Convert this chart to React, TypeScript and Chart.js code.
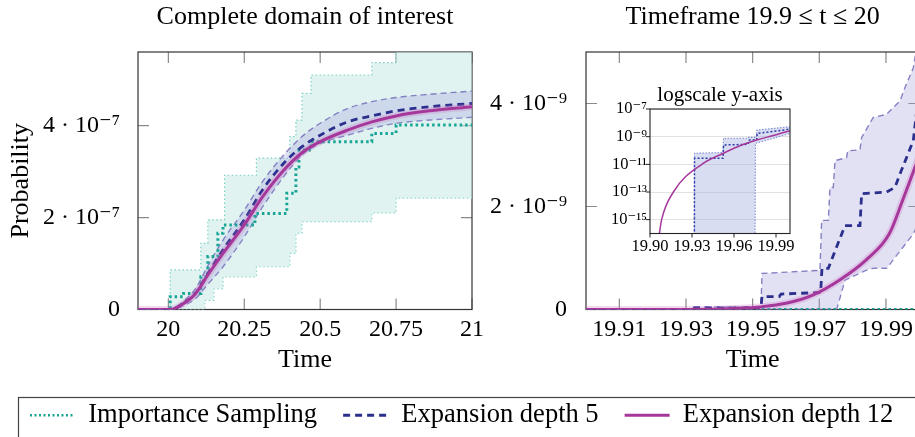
import React, { useEffect, useRef } from "react";
import { Chart, registerables } from "chart.js";

Chart.register(...registerables);

const FONT = "'Liberation Serif', 'DejaVu Serif', 'Times New Roman', serif";

// ================= Left panel: "Complete domain of interest" (values in units of 1e-7)
const E7 = 1e-7;
const LEFT_X_TICKS = [20, 20.25, 20.5, 20.75, 21];
const LEFT_X_LABELS = ["20", "20.25", "20.5", "20.75", "21"];
const LEFT_Y_TICKS = [0, 2e-7, 4e-7];
const LEFT_Y_LABELS = ["0", "2 · 10⁻⁷", "4 · 10⁻⁷"];

const D12_LEFT_T = [19.9, 20.0, 20.02, 20.05, 20.09, 20.13, 20.18, 20.25, 20.31, 20.38, 20.44, 20.5, 20.59, 20.67, 20.75, 20.86, 21.0];
const D12_LEFT_V = [0, 0, 0.02, 0.13, 0.35, 0.75, 1.22, 1.84, 2.45, 3.03, 3.41, 3.65, 3.9, 4.08, 4.21, 4.32, 4.41];

const D5_LEFT_T = [19.9, 20.0, 20.02, 20.05, 20.09, 20.13, 20.18, 20.25, 20.31, 20.38, 20.44, 20.5, 20.59, 20.67, 20.75, 20.86, 21.0];
const D5_LEFT_V = [0, 0, 0.02, 0.14, 0.36, 0.78, 1.3, 1.95, 2.6, 3.18, 3.54, 3.79, 4.08, 4.21, 4.32, 4.41, 4.48];
const D5_UP_LEFT_V = [0, 0, 0.03, 0.18, 0.46, 0.95, 1.51, 2.16, 2.78, 3.36, 3.76, 4.05, 4.37, 4.52, 4.61, 4.68, 4.75];
const D5_LO_LEFT_V = [0, 0, 0.01, 0.09, 0.24, 0.55, 0.93, 1.58, 2.23, 2.89, 3.36, 3.61, 3.79, 3.94, 4.05, 4.12, 4.18];

const IS_LEFT_T = [19.9, 20.006, 20.05, 20.107, 20.13, 20.163, 20.18, 20.285, 20.39, 20.42, 20.43, 20.47, 20.67, 20.75, 21.0];
const IS_LEFT_V = [0, 0.28, 0.35, 0.71, 1.15, 1.66, 1.84, 2.09, 2.53, 3.1, 3.47, 3.65, 3.83, 4.01, 4.01];
const IS_UP_LEFT_T = [19.9, 20.006, 20.107, 20.13, 20.185, 20.29, 20.4, 20.42, 20.44, 20.47, 20.67, 20.748, 21.0];
const IS_UP_LEFT_V = [0, 0.86, 1.44, 1.95, 2.92, 3.29, 3.76, 4.12, 4.7, 5.1, 5.37, 5.8, 5.8];
const IS_LO_LEFT_T = [19.9, 20.12, 20.15, 20.18, 20.29, 20.4, 20.42, 20.44, 20.67, 20.75, 21.0];
const IS_LO_LEFT_V = [0, 0.2, 0.45, 0.71, 0.93, 1.22, 1.66, 1.91, 2.1, 2.42, 2.42];

// ================= Right panel: "Timeframe 19.9 ≤ t ≤ 20" (values in units of 1e-9)
const E9 = 1e-9;
const RIGHT_X_TICKS = [19.91, 19.93, 19.95, 19.97, 19.99];
const RIGHT_X_LABELS = ["19.91", "19.93", "19.95", "19.97", "19.99"];
const RIGHT_Y_TICKS = [0, 2e-9, 4e-9];
const RIGHT_Y_LABELS = ["0", "2 · 10⁻⁹", "4 · 10⁻⁹"];

const D12_RIGHT_T = [19.9, 19.93, 19.94, 19.945, 19.952, 19.96, 19.968, 19.976, 19.984, 19.991, 19.995, 19.9987, 20.0];
const D12_RIGHT_V = [0, 0, 0.005, 0.02, 0.05, 0.12, 0.28, 0.57, 0.96, 1.47, 2.12, 2.76, 3.0];

const D5_RIGHT_T = [19.9, 19.9316, 19.9318, 19.9525, 19.9528, 19.958, 19.9585, 19.9704, 19.9708, 19.9727, 19.9777, 19.9822, 19.9827, 19.9902, 19.9927, 19.9942, 19.9982, 20.0];
const D5_RIGHT_V = [0, 0, 0.03, 0.03, 0.25, 0.25, 0.3, 0.33, 0.8, 0.8, 1.63, 1.63, 2.25, 2.28, 2.37, 2.63, 3.28, 4.3];
const D5_UP_RIGHT_T = [19.9, 19.9316, 19.9318, 19.9525, 19.9528, 19.9702, 19.9707, 19.9727, 19.9732, 19.9742, 19.9747, 19.9782, 19.9785, 19.9822, 19.9827, 19.9862, 19.9902, 19.9942, 19.9957, 19.9982, 20.0];
const D5_UP_RIGHT_V = [0, 0, 0.05, 0.05, 0.7, 0.76, 1.73, 1.73, 2.37, 2.37, 2.89, 2.95, 3.08, 3.1, 3.34, 3.73, 3.79, 4.05, 4.31, 4.69, 5.4];
const D5_LO_RIGHT_T = [19.9, 19.9752, 19.9777, 19.984, 19.9862, 19.9902, 19.9982, 20.0];
const D5_LO_RIGHT_V = [0, 0, 0.57, 0.76, 0.8, 0.8, 1.47, 1.7];

const IS_RIGHT_T = [19.9, 20.0];
const IS_RIGHT_V = [0, 0];

// ================= Inset: "logscale y-axis" (actual probabilities)
const LOG_FLOOR = 1e-17; // zero probability, below the visible log range
const INSET_X_TICKS = [19.9, 19.93, 19.96, 19.99];
const INSET_X_LABELS = ["19.90", "19.93", "19.96", "19.99"];
const INSET_Y_TICKS = [1e-15, 1e-13, 1e-11, 1e-9, 1e-7];
const INSET_Y_LABELS = ["10⁻¹⁵", "10⁻¹³", "10⁻¹¹", "10⁻⁹", "10⁻⁷"];

const INSET_D12_T = [19.9067, 19.9083, 19.9167, 19.937, 19.9524, 19.9655, 19.9762, 19.988, 20.0];
const INSET_D12_V = [1e-16, 1e-15, 1e-13, 1e-11, 6.3e-11, 2.5e-10, 5.8e-10, 1.2e-9, 2.7e-9];
const INSET_D5_T = [19.9317, 19.9318, 19.9522, 19.9525, 19.9702, 19.9705, 19.9762, 19.9765, 20.0];
const INSET_D5_V = [LOG_FLOOR, 2.7e-11, 2.7e-11, 2.5e-10, 2.8e-10, 5.7e-10, 5.7e-10, 1.7e-9, 3.5e-9];
const INSET_UP_T = [19.9317, 19.9318, 19.95, 19.9522, 19.9525, 19.97, 19.9703, 19.976, 19.9763, 20.0];
const INSET_UP_V = [LOG_FLOOR, 6.3e-11, 7e-11, 7e-11, 7.6e-10, 7.6e-10, 8.9e-10, 8.9e-10, 3e-9, 5.2e-9];
const INSET_LO_T = [19.9317, 19.975, 19.9753, 20.0];
const INSET_LO_V = [LOG_FLOOR, LOG_FLOOR, 3.3e-10, 1.7e-9];

const LEGEND_LABELS = ["Importance Sampling", "Expansion depth 5", "Expansion depth 12"];

// ================= Styles
const TEAL = "#18a596";
const TEAL_LIGHT = "#79cfc5";
const TEAL_FILL = "rgba(198,234,229,0.55)";
const NAVY = "#2b2f8d";
const BAND_BORDER = "#8580c4";
const BAND_FILL = "rgba(160,155,215,0.3)";
const MAGENTA = "#a6389b";
const MAGENTA_HALO = "rgba(205,105,190,0.25)";
const INSET_BAND_FILL = "rgba(160,170,220,0.4)";
const INSET_BAND_BORDER = "#7d8bd0";
const INSET_NAVY = "#2b3aa8";

function pts(ts: number[], vs: number[], k = 1) {
  return ts.map((t, i) => ({ x: t, y: vs[i] * k }));
}

function line(label: string, data: any[], color: string, width: number, dash: number[], extra: any = {}) {
  return {
    label,
    data,
    borderColor: color,
    backgroundColor: color,
    borderWidth: width,
    borderDash: dash,
    borderCapStyle: "butt",
    pointRadius: 0,
    pointHoverRadius: 0,
    fill: false,
    tension: 0,
    ...extra,
  };
}

function drawFrame(chart: any, o: any) {
  const { ctx, chartArea: a, scales } = chart;
  const xs = scales.x;
  const ys = scales.y;
  ctx.save();
  ctx.setLineDash([]);
  ctx.lineWidth = o.tickWidth;
  ctx.strokeStyle = o.tickColor;
  ctx.beginPath();
  const L = o.tickLen;
  for (const t of xs.ticks) {
    const p = xs.getPixelForValue(t.value);
    if (o.inward) {
      ctx.moveTo(p, a.bottom);
      ctx.lineTo(p, a.bottom - L);
      ctx.moveTo(p, a.top);
      ctx.lineTo(p, a.top + L);
    } else {
      ctx.moveTo(p, a.bottom);
      ctx.lineTo(p, a.bottom + L);
    }
  }
  for (const t of ys.ticks) {
    const p = ys.getPixelForValue(t.value);
    if (o.inward) {
      ctx.moveTo(a.left, p);
      ctx.lineTo(a.left + L, p);
      ctx.moveTo(a.right, p);
      ctx.lineTo(a.right - L, p);
    } else {
      ctx.moveTo(a.left, p);
      ctx.lineTo(a.left - L, p);
    }
  }
  ctx.stroke();
  ctx.lineWidth = o.frameWidth;
  ctx.strokeStyle = o.frameColor;
  ctx.strokeRect(a.left, a.top, a.right - a.left, a.bottom - a.top);
  ctx.restore();
}

const framePlugin = {
  id: "frame",
  beforeDraw(chart: any, _a: any, o: any) {
    if (o && o.bg) {
      const a = chart.chartArea;
      chart.ctx.save();
      chart.ctx.fillStyle = o.bg;
      chart.ctx.fillRect(a.left, a.top, a.right - a.left, a.bottom - a.top);
      chart.ctx.restore();
    }
  },
  beforeDatasetsDraw(chart: any, _a: any, o: any) {
    if (o && !o.after) drawFrame(chart, o);
  },
  afterDatasetsDraw(chart: any, _a: any, o: any) {
    if (o && o.after) drawFrame(chart, o);
  },
};

const legendFramePlugin = {
  id: "legendFrame",
  afterDraw(chart: any, _a: any, o: any) {
    const ctx = chart.ctx;
    ctx.save();
    ctx.setLineDash([]);
    ctx.lineWidth = 1.2;
    ctx.strokeStyle = "#444";
    ctx.strokeRect(o.x, o.y, 2000, 400);
    ctx.restore();
  },
};

function mainScales(opts: any) {
  return {
    x: {
      type: "linear",
      min: opts.xmin,
      max: opts.xmax,
      grid: { display: false },
      border: { display: false },
      ticks: {
        autoSkip: false,
        maxRotation: 0,
        minRotation: 0,
        padding: -2,
        color: "#000",
        font: { family: FONT, size: 24 },
        callback: (_v: any, i: number) => opts.xLabels[i],
      },
      afterBuildTicks: (s: any) => {
        s.ticks = opts.xTicks.map((v: number) => ({ value: v }));
      },
      afterFit: (s: any) => {
        s.height = opts.xHeight;
        s.paddingLeft = 0;
        s.paddingRight = 0;
      },
      title: {
        display: true,
        text: "Time",
        color: "#000",
        font: { family: FONT, size: 26 },
        padding: { top: 0, bottom: 16.4 },
      },
    },
    y: {
      type: "linear",
      min: 0,
      max: opts.ymax,
      grid: { display: false },
      border: { display: false },
      ticks: {
        padding: opts.yPad,
        color: "#000",
        font: { family: FONT, size: 24 },
        callback: (_v: any, i: number) => opts.yLabels[i],
      },
      afterBuildTicks: (s: any) => {
        s.ticks = opts.yTicks.map((v: number) => ({ value: v }));
      },
      afterFit: (s: any) => {
        s.width = opts.yWidth;
        s.paddingTop = 0;
        s.paddingBottom = 0;
      },
      title: {
        display: !!opts.yTitle,
        text: opts.yTitle || "",
        color: "#000",
        font: { family: FONT, size: 26 },
        padding: { top: 5.4, bottom: 0 },
      },
    },
  };
}

const mainFrame = { inward: true, tickLen: 11, tickWidth: 1.2, tickColor: "#8a8a8a", frameWidth: 1.2, frameColor: "#333" };

function titleOpts(text: string) {
  return {
    display: true,
    text,
    fullSize: false,
    color: "#000",
    font: { family: FONT, size: 26, weight: "normal" },
    padding: { top: 1.4, bottom: 19.4 },
  };
}

export default function App() {
  const leftRef = useRef<HTMLCanvasElement>(null);
  const rightRef = useRef<HTMLCanvasElement>(null);
  const insetRef = useRef<HTMLCanvasElement>(null);
  const legendRef = useRef<HTMLCanvasElement>(null);

  useEffect(() => {
    Chart.defaults.font.family = FONT;
    Chart.defaults.color = "#000";
    const mono = { cubicInterpolationMode: "monotone" };

    const d12Left = pts(D12_LEFT_T, D12_LEFT_V, E7);
    const left = new Chart(leftRef.current as any, {
      type: "line",
      data: {
        datasets: [
          line("Expansion depth 12", d12Left, MAGENTA, 3, [], mono),
          line("depth 12 band", d12Left, MAGENTA_HALO, 7, [], mono),
          line("Expansion depth 5", pts(D5_LEFT_T, D5_LEFT_V, E7), NAVY, 2.8, [7, 5], mono),
          line("Importance Sampling", pts(IS_LEFT_T, IS_LEFT_V, E7), TEAL, 3, [2.5, 3], { stepped: true }),
          line("depth 5 upper", pts(D5_LEFT_T, D5_UP_LEFT_V, E7), BAND_BORDER, 1.4, [6, 4], { ...mono, fill: "+1", backgroundColor: BAND_FILL }),
          line("depth 5 lower", pts(D5_LEFT_T, D5_LO_LEFT_V, E7), BAND_BORDER, 1.4, [6, 4], mono),
          line("IS upper", pts(IS_UP_LEFT_T, IS_UP_LEFT_V, E7), TEAL_LIGHT, 1.2, [1.5, 2.5], { stepped: true, fill: "+1", backgroundColor: TEAL_FILL }),
          line("IS lower", pts(IS_LO_LEFT_T, IS_LO_LEFT_V, E7), TEAL_LIGHT, 1.2, [1.5, 2.5], { stepped: true }),
        ],
      },
      options: {
        responsive: false,
        animation: false,
        events: [],
        layout: { padding: { left: 0, right: 28, top: 0, bottom: 0 } },
        scales: mainScales({
          xmin: 19.9, xmax: 21, xTicks: LEFT_X_TICKS, xLabels: LEFT_X_LABELS, xHeight: 82.5,
          ymax: 5.6e-7, yTicks: LEFT_Y_TICKS, yLabels: LEFT_Y_LABELS, yWidth: 138, yPad: 10, yTitle: "Probability",
        }),
        plugins: {
          legend: { display: false },
          tooltip: { enabled: false },
          title: titleOpts("Complete domain of interest"),
          frame: mainFrame,
        },
      } as any,
      plugins: [framePlugin],
    } as any);

    const d12Right = pts(D12_RIGHT_T, D12_RIGHT_V, E9);
    const right = new Chart(rightRef.current as any, {
      type: "line",
      data: {
        datasets: [
          line("Expansion depth 12", d12Right, MAGENTA, 3, [], mono),
          line("depth 12 band", d12Right, MAGENTA_HALO, 7, [], mono),
          line("Expansion depth 5", pts(D5_RIGHT_T, D5_RIGHT_V, E9), NAVY, 2.8, [7, 5]),
          line("Importance Sampling", pts(IS_RIGHT_T, IS_RIGHT_V, E9), TEAL, 3, [2.5, 3]),
          line("depth 5 upper", pts(D5_UP_RIGHT_T, D5_UP_RIGHT_V, E9), BAND_BORDER, 1.4, [6, 4], { fill: "+1", backgroundColor: BAND_FILL }),
          line("depth 5 lower", pts(D5_LO_RIGHT_T, D5_LO_RIGHT_V, E9), BAND_BORDER, 1.4, [6, 4]),
        ],
      },
      options: {
        responsive: false,
        animation: false,
        events: [],
        layout: { padding: { left: 0, right: 5.7, top: 0, bottom: 0 } },
        scales: mainScales({
          xmin: 19.9, xmax: 20.0, xTicks: RIGHT_X_TICKS, xLabels: RIGHT_X_LABELS, xHeight: 82.5,
          ymax: 5e-9, yTicks: RIGHT_Y_TICKS, yLabels: RIGHT_Y_LABELS, yWidth: 106, yPad: 11, yTitle: "",
        }),
        plugins: {
          legend: { display: false },
          tooltip: { enabled: false },
          title: titleOpts("Timeframe 19.9 ≤ t ≤ 20"),
          frame: mainFrame,
        },
      } as any,
      plugins: [framePlugin],
    } as any);

    const inset = new Chart(insetRef.current as any, {
      type: "line",
      data: {
        datasets: [
          line("Expansion depth 12", pts(INSET_D12_T, INSET_D12_V), MAGENTA, 1.5, [], mono),
          line("Expansion depth 5", pts(INSET_D5_T, INSET_D5_V), INSET_NAVY, 1.5, [2, 2]),
          line("depth 5 upper", pts(INSET_UP_T, INSET_UP_V), INSET_BAND_BORDER, 1.1, [1.5, 1.5], { fill: "+1", backgroundColor: INSET_BAND_FILL }),
          line("depth 5 lower", pts(INSET_LO_T, INSET_LO_V), INSET_BAND_BORDER, 1.1, [1.5, 1.5]),
        ],
      },
      options: {
        responsive: false,
        animation: false,
        events: [],
        layout: { padding: { left: 0, right: 10, top: 0, bottom: 0 } },
        scales: {
          x: {
            type: "linear",
            min: 19.9,
            max: 20.0,
            grid: { display: false },
            border: { display: false },
            ticks: {
              autoSkip: false,
              maxRotation: 0,
              padding: -5,
              color: "#000",
              font: { family: FONT, size: 16.5 },
              callback: (_v: any, i: number) => INSET_X_LABELS[i],
            },
            afterBuildTicks: (s: any) => {
              s.ticks = INSET_X_TICKS.map((v) => ({ value: v }));
            },
            afterFit: (s: any) => {
              s.height = 21.5;
              s.paddingLeft = 0;
              s.paddingRight = 0;
            },
          },
          y: {
            type: "logarithmic",
            min: 1e-16,
            max: 1e-7,
            grid: { display: true, drawOnChartArea: true, drawTicks: false, color: "#e2e2e2", lineWidth: 1 },
            border: { display: false },
            ticks: {
              padding: 3,
              color: "#000",
              font: { family: FONT, size: 16.5 },
              callback: (_v: any, i: number) => INSET_Y_LABELS[i],
            },
            afterBuildTicks: (s: any) => {
              s.ticks = INSET_Y_TICKS.map((v) => ({ value: v }));
            },
            afterFit: (s: any) => {
              s.width = 50;
              s.paddingTop = 0;
              s.paddingBottom = 0;
            },
          },
        },
        plugins: {
          legend: { display: false },
          tooltip: { enabled: false },
          title: {
            display: true,
            text: "logscale y-axis",
            fullSize: false,
            color: "#000",
            font: { family: FONT, size: 21, weight: "normal" },
            padding: { top: 8, bottom: 0.8 },
          },
          frame: { bg: "#fff", after: true, inward: false, tickLen: 4, tickWidth: 1, tickColor: "#222", frameWidth: 1.1, frameColor: "#222" },
        },
      } as any,
      plugins: [framePlugin],
    } as any);

    const legendStyles = [
      { color: TEAL, width: 2.6, dash: [2, 2.5] },
      { color: NAVY, width: 2.8, dash: [7, 5] },
      { color: MAGENTA, width: 3, dash: [] as number[] },
    ];
    const legend = new Chart(legendRef.current as any, {
      type: "line",
      data: {
        datasets: LEGEND_LABELS.map((lab, i) =>
          line(lab, [], legendStyles[i].color, legendStyles[i].width, legendStyles[i].dash)
        ),
      },
      options: {
        responsive: false,
        animation: false,
        events: [],
        layout: { padding: { left: 4, top: 0, right: 0, bottom: 0 } },
        scales: { x: { display: false }, y: { display: false } },
        plugins: {
          tooltip: { enabled: false },
          legend: {
            display: true,
            position: "top",
            align: "start",
            labels: {
              usePointStyle: true,
              pointStyleWidth: 45,
              boxHeight: 10,
              padding: 26,
              color: "#000",
              font: { family: FONT, size: 26.5 },
              generateLabels: (chart: any) =>
                chart.data.datasets.map((d: any, i: number) => ({
                  text: d.label,
                  strokeStyle: d.borderColor,
                  fillStyle: d.borderColor,
                  lineWidth: d.borderWidth,
                  lineDash: d.borderDash,
                  lineCap: "butt",
                  pointStyle: "line",
                  hidden: false,
                  datasetIndex: i,
                  fontColor: "#000",
                })),
            },
          },
          legendFrame: { x: 18.5, y: 21.5 },
        },
      } as any,
      plugins: [legendFramePlugin],
    } as any);

    return () => {
      left.destroy();
      right.destroy();
      inset.destroy();
      legend.destroy();
    };
  }, []);

  return (
    <div
      style={{
        position: "absolute",
        left: 0,
        top: 0,
        width: 915,
        height: 437,
        overflow: "hidden",
        background: "#fff",
      }}
    >
      <canvas ref={legendRef} width={935} height={150} style={{ position: "absolute", left: 0, top: 376 }} />
      <canvas ref={leftRef} width={500} height={392} style={{ position: "absolute", left: 0, top: 0 }} />
      <canvas ref={rightRef} width={445} height={392} style={{ position: "absolute", left: 480, top: 0 }} />
      <canvas ref={insetRef} width={200} height={180} style={{ position: "absolute", left: 600, top: 75 }} />
    </div>
  );
}
